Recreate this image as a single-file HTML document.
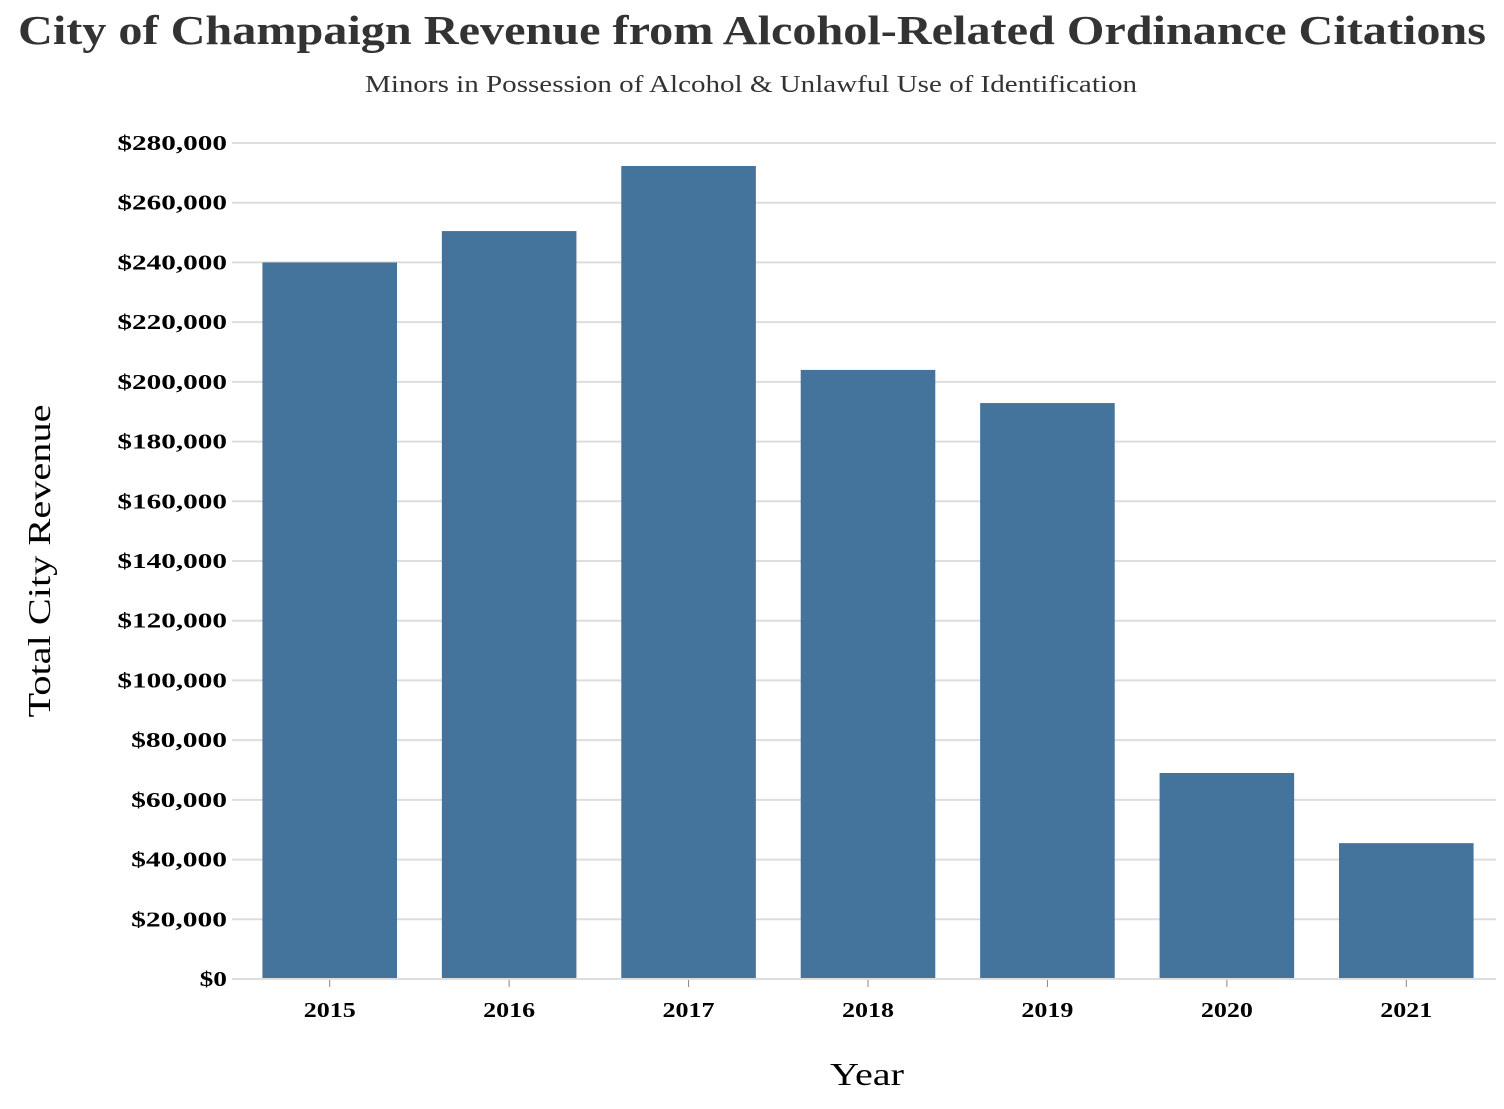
<!DOCTYPE html>
<html><head><meta charset="utf-8"><style>
body{margin:0;background:#fff;width:1504px;height:1104px;overflow:hidden}
svg text{font-family:"Liberation Serif",serif}
</style></head><body>
<svg id="chart" width="1504" height="1104">
<text x="752" y="44" text-anchor="middle" font-size="41" font-weight="bold" fill="#333" textLength="1468" lengthAdjust="spacingAndGlyphs">City of Champaign Revenue from Alcohol-Related Ordinance Citations</text>
<text x="751" y="92" text-anchor="middle" font-size="24" fill="#333" textLength="772" lengthAdjust="spacingAndGlyphs">Minors in Possession of Alcohol &amp; Unlawful Use of Identification</text>
<g id="grid"></g><g id="bars"></g><g id="xaxis"></g><g id="yaxis"></g>
<text transform="translate(50,561) rotate(-90)" text-anchor="middle" font-size="32" fill="#000" textLength="313" lengthAdjust="spacingAndGlyphs">Total City Revenue</text>
<text x="867" y="1085" text-anchor="middle" font-size="32" fill="#000" textLength="74" lengthAdjust="spacingAndGlyphs">Year</text>
</svg>
<script>
const categories=["2015","2016","2017","2018","2019","2020","2021"];
const revenue=[240000,250500,272300,204000,192900,69000,45500];
const yTicks=[0,20000,40000,60000,80000,100000,120000,140000,160000,180000,200000,220000,240000,260000,280000];
const NS="http://www.w3.org/2000/svg";
const L=240,R=1496,T=143,B=979,yMax=280000;
const y=v=>B-(v/yMax)*(B-T);
const band=(R-L)/categories.length;
const x=i=>L+band*i;
function mk(tag,attrs,parent){const e=document.createElementNS(NS,tag);for(const k in attrs)e.setAttribute(k,attrs[k]);parent.appendChild(e);return e;}
const grid=document.getElementById('grid'),bars=document.getElementById('bars'),xa=document.getElementById('xaxis'),ya=document.getElementById('yaxis');
yTicks.forEach(v=>{
 const g=mk('line',{x1:232,x2:R,y1:y(v),y2:y(v),stroke:'#ddd','stroke-width':2},grid);
 
 
 const label='$'+v.toLocaleString('en-US');
 const t=mk('text',{x:227,y:y(v)+7,'text-anchor':'end','font-size':21,'font-weight':'bold',fill:'#000',textLength:label.length*13.7,lengthAdjust:'spacingAndGlyphs'},ya);
 t.textContent=label;
 
 
});
categories.forEach((c,i)=>{
 const bw=band*0.75,bx=x(i)+(band-bw)/2;
 const r=mk('rect',{x:bx,y:y(revenue[i]),width:bw,height:B-y(revenue[i]),fill:'#44739c'},bars);
 
 
 const cx=x(i)+band/2;
 const tk=mk('line',{x1:cx,x2:cx,y1:B,y2:B+8,stroke:'#888','stroke-width':1},xa);
 
 
 const t=mk('text',{x:cx,y:B+38,'text-anchor':'middle','font-size':21,'font-weight':'bold',fill:'#000',textLength:52,lengthAdjust:'spacingAndGlyphs'},xa);
 t.textContent=c;
 
 
});
const ax=mk('line',{x1:L,x2:R,y1:B,y2:B,stroke:'#ddd','stroke-width':2},xa);


</script>
</body></html>
